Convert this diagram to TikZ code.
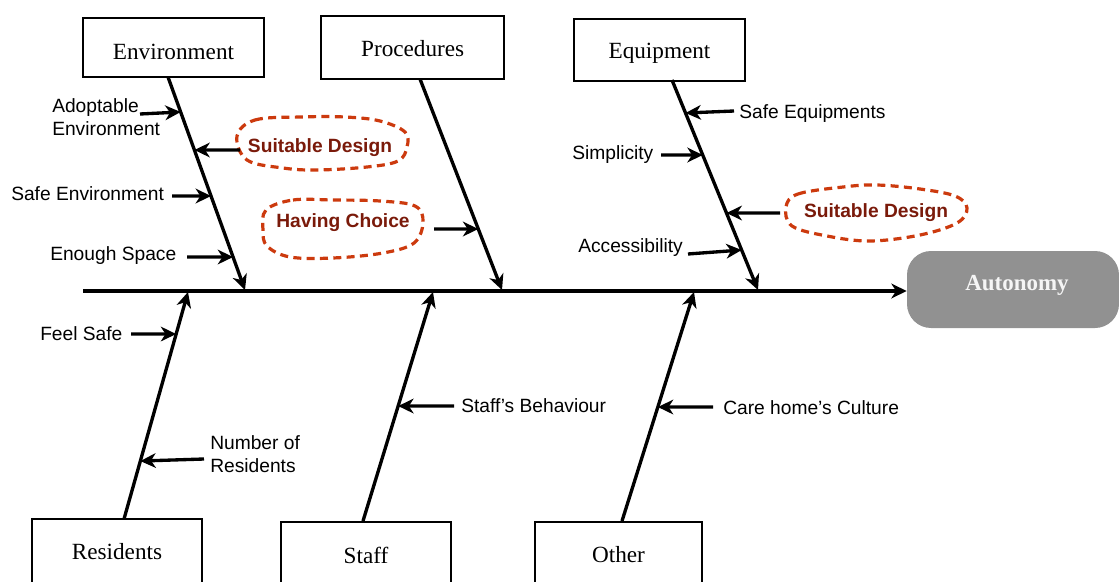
\documentclass[tikz,border=0pt]{standalone}
\usepackage{fontspec}
\setmainfont{Liberation Serif}
\setsansfont{Liberation Sans}
\usetikzlibrary{arrows.meta}

\definecolor{cloudline}{HTML}{CC3A0E}
\definecolor{cloudtext}{HTML}{7A1A0A}
\definecolor{effectgray}{HTML}{919191}

\tikzset{
  catbox/.style={draw=black, line width=1.5pt, inner sep=0pt,
    font=\fontsize{17.4}{20}\selectfont},
  bone/.style={line width=2.5pt,
    -{Stealth[length=11.5pt,width=11pt,inset=3.5pt]}},
  causetext/.style={inner sep=0pt, font=\sffamily\fontsize{14.4}{17.25}\selectfont},
  keytext/.style={inner sep=0pt, text=cloudtext,
    font=\sffamily\bfseries\fontsize{14.4}{17.25}\selectfont},
  cloud/.style={draw=cloudline, line width=2.4pt, dash pattern=on 6pt off 4pt},
  effectbox/.style={fill=effectgray, rounded corners=18pt, inner sep=0pt,
    text=white!96!black, text depth=10.5pt,
    font=\bfseries\fontsize{17.2}{20}\selectfont}
}

\begin{document}
\begin{tikzpicture}[x=0.75pt, y=-0.75pt]
\clip (0,0) rectangle (1119,581);

% category boxes
\node[catbox, minimum width=135.75pt, minimum height=44.25pt, text height=17.25pt, text depth=0pt] (env) at (173.5,47.75) {Environment};
\node[catbox, minimum width=137.5pt,  minimum height=47.25pt, text height=14pt, text depth=0pt] (proc) at (412.7,47.6) {Procedures};
\node[catbox, minimum width=128.25pt, minimum height=46.5pt, text height=14pt, text depth=0pt] (equip) at (659.5,49.6) {Equipment};
\node[catbox, minimum width=127.5pt,  minimum height=49.5pt]  (res)  at (117,552)   {Residents};
\node[catbox, minimum width=127.5pt,  minimum height=50pt]    (staff) at (366,555)  {Staff};
\node[catbox, minimum width=125.25pt, minimum height=50pt]    (other) at (618.5,555) {Other};

% effect
\node[effectbox, minimum width=159pt, minimum height=57.75pt] (auto) at (1013,289.5) {\hspace*{6pt}Autonomy};

% spine
\coordinate (spinestart) at (83,291);
\draw[bone] (spinestart) -- (auto.west |- spinestart);

% bone end points
\coordinate (envtop)   at (168,77);   \coordinate (envtip)   at (245,290);
\coordinate (proctop)  at (420,79);   \coordinate (proctip)  at (502,290);
\coordinate (equiptop) at (672,80);   \coordinate (equiptip) at (758,290);
\coordinate (resbot)   at (124,519);  \coordinate (restip)   at (188,292);
\coordinate (staffbot) at (363,521);  \coordinate (stafftip) at (433,292);
\coordinate (otherbot) at (622,521);  \coordinate (othertip) at (694,292);

\draw[bone] (envtop) -- (envtip);
\draw[bone] (proctop) -- (proctip);
\draw[bone] (equiptop) -- (equiptip);
\draw[bone] (resbot) -- (restip);
\draw[bone] (staffbot) -- (stafftip);
\draw[bone] (otherbot) -- (othertip);

% clouds around key causes
\draw[cloud] plot[smooth cycle, tension=0.6] coordinates {
  (237,136) (255,120) (300,117) (345,117) (380,121) (405,132) (407,147)
  (398,161) (367,167) (317,170) (283,168) (247,160)};
\draw[cloud] plot[smooth cycle, tension=0.6] coordinates {
  (266,210) (293,200) (333,200) (380,201) (415,206) (423,222)
  (414,243) (383,253) (333,258) (290,257) (267,246) (263,230)};
\draw[cloud] plot[smooth cycle, tension=0.6] coordinates {
  (786,207) (798,194) (843,187) (877,185) (920,189) (955,196) (967,208)
  (957,223) (920,235) (870,241) (827,236) (792,226)};

% cause labels
\node[causetext, anchor=north west, align=left] (adopt) at (52,98) {Adoptable\\Environment};
\node[keytext, anchor=base] (suit1) at (320,152) {Suitable Design};
\node[causetext, anchor=base west] (safeenv) at (11,200.5) {Safe Environment};
\node[keytext, anchor=base] (choice) at (343,227) {Having Choice};
\node[causetext, anchor=base west] (space) at (50,260.5) {Enough Space};
\node[causetext, anchor=base west] (safeeq) at (739,118) {Safe Equipments};
\node[causetext, anchor=base west] (simp) at (572,159) {Simplicity};
\node[keytext, anchor=base] (suit2) at (876,217) {Suitable Design};
\node[causetext, anchor=base west] (access) at (578,252) {Accessibility};
\node[causetext, anchor=base west] (feel) at (40,340.5) {Feel Safe};
\node[causetext, anchor=north west, align=left] (numres) at (210,435) {Number of\\Residents};
\node[causetext, anchor=base west] (behav) at (461,412) {Staff’s Behaviour};
\node[causetext, anchor=base west] (culture) at (723,414) {Care home’s Culture};

% where the cause arrows meet the bones
\coordinate (adoptS)  at (140,114);
\coordinate (adoptE)  at (intersection of envtop--envtip and 0,112--1,112);
\coordinate (suit1S)  at (240,150);
\coordinate (suit1E)  at (intersection of envtop--envtip and 0,150--1,150);
\coordinate (safeS)   at (172,196);
\coordinate (safeE)   at (intersection of envtop--envtip and 0,196--1,196);
\coordinate (spaceS)  at (187,257);
\coordinate (spaceE)  at (intersection of envtop--envtip and 0,257--1,257);
\coordinate (choiceS) at (434,229);
\coordinate (choiceE) at (intersection of proctop--proctip and 0,229--1,229);
\coordinate (safeeqS) at (734,111);
\coordinate (safeeqE) at (intersection of equiptop--equiptip and 0,113--1,113);
\coordinate (simpS)   at (661,155);
\coordinate (simpE)   at (intersection of equiptop--equiptip and 0,155--1,155);
\coordinate (suit2S)  at (780,213);
\coordinate (suit2E)  at (intersection of equiptop--equiptip and 0,213--1,213);
\coordinate (accessS) at (688,254);
\coordinate (accessE) at (intersection of equiptop--equiptip and 0,250--1,250);
\coordinate (feelS)   at (131,334);
\coordinate (feelE)   at (intersection of resbot--restip and 0,334--1,334);
\coordinate (numresS) at (204,459);
\coordinate (numresE) at (intersection of resbot--restip and 0,461--1,461);
\coordinate (behavS)  at (454,406);
\coordinate (behavE)  at (intersection of staffbot--stafftip and 0,406--1,406);
\coordinate (cultS)   at (713,407);
\coordinate (cultE)   at (intersection of otherbot--othertip and 0,407--1,407);

\foreach \c in {adopt,suit1,safe,space,choice,safeeq,simp,suit2,access,feel,numres,behav,cult}
  \draw[bone] (\c S) -- (\c E);

\end{tikzpicture}
\end{document}
